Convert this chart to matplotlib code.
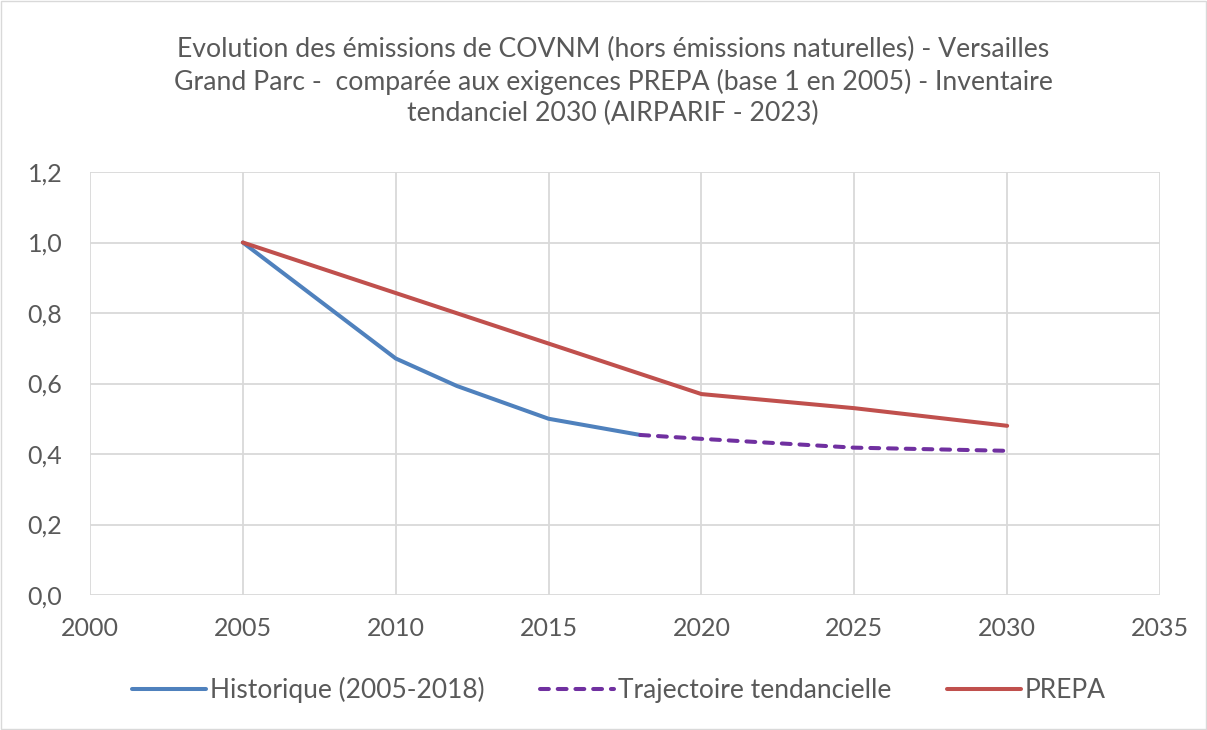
import matplotlib
matplotlib.use("Agg")
import matplotlib.pyplot as plt
from matplotlib.patches import Rectangle

plt.rcParams['font.family'] = ['Lato', 'DejaVu Sans']

hist_years = [2005, 2010, 2012, 2015, 2018]
hist_vals = [1.0, 0.671, 0.593, 0.500, 0.454]
traj_years = [2018, 2020, 2025, 2030]
traj_vals = [0.454, 0.443, 0.418, 0.409]
prepa_years = [2005, 2020, 2025, 2030]
prepa_vals = [1.0, 0.570, 0.530, 0.480]

title = ("Evolution des émissions de COVNM (hors émissions naturelles) - Versailles\n"
         "Grand Parc -  comparée aux exigences PREPA (base 1 en 2005) - Inventaire\n"
         "tendanciel 2030 (AIRPARIF - 2023)")

xticks = [2000, 2005, 2010, 2015, 2020, 2025, 2030, 2035]
yticks = [0.0, 0.2, 0.4, 0.6, 0.8, 1.0, 1.2]
ytick_labels = ["0,0", "0,2", "0,4", "0,6", "0,8", "1,0", "1,2"]

txt = '#595959'
fig = plt.figure(figsize=(12.07, 7.30), dpi=100)
ax = fig.add_axes([90/1207, 1-595/730, (1160-90)/1207, (595-172)/730])

ax.plot(hist_years, hist_vals, color='#4f81bd', lw=2.9, label='Historique (2005-2018)', solid_capstyle='round')
ax.plot(traj_years, traj_vals, color='#7030a0', lw=2.9, linestyle=(0, (2.2, 2.2)), label='Trajectoire tendancielle', dash_capstyle='round')
ax.plot(prepa_years, prepa_vals, color='#c0504d', lw=2.9, label='PREPA', solid_capstyle='round')

ax.set_xlim(2000, 2035)
ax.set_ylim(0, 1.2)
ax.set_xticks(xticks)
ax.set_xticklabels([str(x) for x in xticks])
ax.set_yticks(yticks)
ax.set_yticklabels(ytick_labels)
ax.grid(True, color='#d9d9d9', lw=1.3)
ax.set_axisbelow(True)
for s in ax.spines.values():
    s.set_visible(False)
ax.tick_params(length=0, labelsize=18, labelcolor=txt)
ax.tick_params(axis='x', pad=16)
ax.tick_params(axis='y', pad=20)

fig.text(613/1207, 1-37/730, title, ha='center', va='top', fontsize=19.2, color=txt, linespacing=1.3)

leg = fig.legend(loc='center', bbox_to_anchor=(619/1207, 1-690/730), ncol=3, frameon=False,
                 fontsize=19, handlelength=2.8, handletextpad=0.15, columnspacing=2.1)
for t in leg.get_texts():
    t.set_color(txt)

fig.patches.append(Rectangle((0.001, 0.001), 0.998, 0.998, transform=fig.transFigure,
                             fill=False, edgecolor='#d9d9d9', lw=1))
fig.savefig('out.png', dpi=100)
